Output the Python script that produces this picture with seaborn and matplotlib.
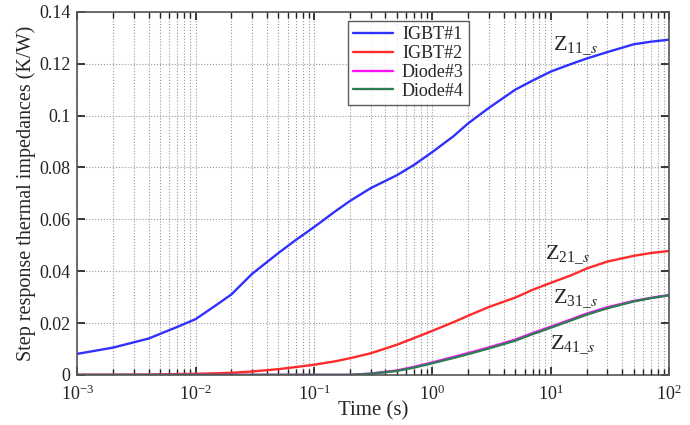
import matplotlib
matplotlib.use("Agg")
import matplotlib.pyplot as plt
import seaborn as sns
import pandas as pd

# Time points (s) and step response thermal impedances (K/W)
time_s = [0.001, 0.002, 0.004, 0.007, 0.01, 0.015, 0.02, 0.03, 0.05, 0.07,
          0.1, 0.15, 0.2, 0.3, 0.5, 0.7, 1, 1.5, 2, 3,
          5, 7, 10, 15, 20, 30, 50, 70, 100]
igbt1 = [0.0081, 0.0105, 0.0140, 0.0185, 0.0215, 0.0270, 0.0310, 0.0390, 0.0470, 0.0520,
         0.0570, 0.0630, 0.0670, 0.0720, 0.0770, 0.0810, 0.0860, 0.0920, 0.0970, 0.1030,
         0.1100, 0.1135, 0.1170, 0.1200, 0.1220, 0.1245, 0.1275, 0.1285, 0.1293]
igbt2 = [0.0, 0.0, 0.0001, 0.0003, 0.0004, 0.0006, 0.0008, 0.0013, 0.0022, 0.0030,
         0.0039, 0.0052, 0.0064, 0.0083, 0.0116, 0.0142, 0.0170, 0.0203, 0.0228, 0.0262,
         0.0298, 0.0328, 0.0355, 0.0385, 0.0410, 0.0437, 0.0459, 0.0470, 0.0478]
diode3 = [0.0, 0.0, 0.0, 0.0, 0.0, 0.0, 0.0, 0.0, 0.0, 0.0,
          0.0, 0.0, 0.0, 0.0005, 0.0017, 0.0031, 0.0048, 0.0069, 0.0084, 0.0106,
          0.0136, 0.0161, 0.0186, 0.0215, 0.0236, 0.0261, 0.0285, 0.0297, 0.0308]
diode4 = [0.0, 0.0, 0.0, 0.0, 0.0, 0.0, 0.0, 0.0, 0.0, 0.0,
          0.0, 0.0, 0.0, 0.0004, 0.0015, 0.0028, 0.0045, 0.0065, 0.0080, 0.0102,
          0.0132, 0.0157, 0.0182, 0.0211, 0.0232, 0.0257, 0.0283, 0.0296, 0.0307]

series_names = ["IGBT#1", "IGBT#2", "Diode#3", "Diode#4"]
series_colors = ["#3030ff", "#ff2a2a", "#ff10ff", "#2e7d52"]

labels = [r"Z$_{\mathregular{11\_}s}$", r"Z$_{\mathregular{21\_}s}$", r"Z$_{\mathregular{31\_}s}$", r"Z$_{\mathregular{41\_}s}$"]
label_x = [10.5, 9.0, 10.5, 9.8]
label_y = [0.127, 0.0465, 0.0292, 0.0115]

sns.set_theme(style="ticks")
plt.rcParams["font.family"] = ["Liberation Serif", "DejaVu Serif"]
plt.rcParams["mathtext.fontset"] = "stix"

df = pd.DataFrame({
    "time": time_s * 4,
    "value": igbt1 + igbt2 + diode3 + diode4,
    "device": sum([[n] * len(time_s) for n in series_names], []),
})

fig, ax = plt.subplots(figsize=(6.9, 4.25), dpi=100)
sns.lineplot(data=df, x="time", y="value", hue="device", palette=series_colors,
             linewidth=1.7, ax=ax)

ax.set_xscale("log")
ax.set_xlim(1e-3, 100)
ax.set_ylim(0, 0.14)
ax.set_yticks([0, 0.02, 0.04, 0.06, 0.08, 0.1, 0.12, 0.14])
ax.set_yticklabels(["0", "0.02", "0.04", "0.06", "0.08", "0.1", "0.12", "0.14"])
ax.grid(True, which="major", linestyle=":", color="#999999", linewidth=0.8)
ax.grid(True, which="minor", axis="x", linestyle=":", color="#999999", linewidth=0.8)
ax.tick_params(which="both", direction="in", top=True, right=True, labelsize=13, colors="#222222")
ax.tick_params(axis="x", pad=7)
ax.tick_params(axis="y", pad=5)
for sp in ax.spines.values():
    sp.set_color("#555555")
    sp.set_linewidth(1.2)

ax.set_xlabel("Time (s)", fontsize=15, labelpad=-2)
ax.set_ylabel("Step response thermal impedances (K/W)", fontsize=14.5, labelpad=2)

for txt, lx, ly in zip(labels, label_x, label_y):
    ax.text(lx, ly, txt, fontsize=16, ha="left", va="center")

leg = ax.legend(title=None, loc="upper left", bbox_to_anchor=(0.457, 0.975), fontsize=13,
                frameon=True, fancybox=False, edgecolor="#333333", borderpad=0.3,
                handlelength=2.2, handletextpad=0.5, labelspacing=0.1, borderaxespad=0)
leg.get_frame().set_linewidth(1.0)

plt.subplots_adjust(left=0.112, right=0.97, top=0.972, bottom=0.118)
plt.savefig("out.png")
